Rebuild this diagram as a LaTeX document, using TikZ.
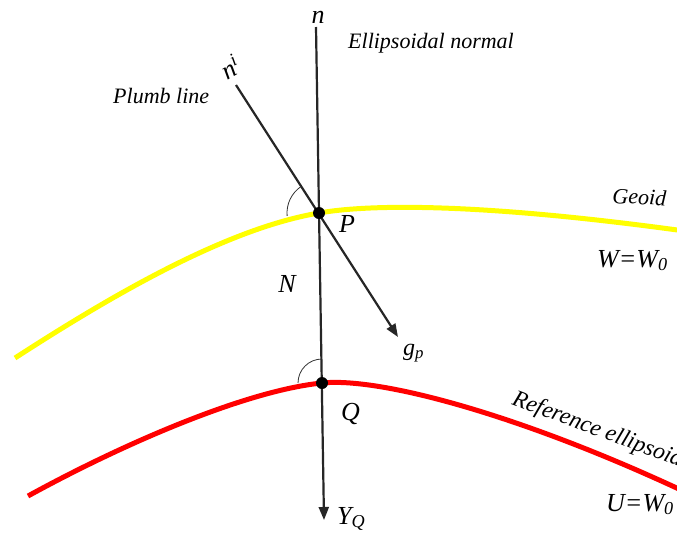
\documentclass[tikz,border=0pt]{standalone}
\usepackage{fontspec}
\setmainfont{Liberation Serif}
\usetikzlibrary{arrows.meta}
\begin{document}
\begin{tikzpicture}[x=1pt,y=-1pt,
  axisline/.style={draw=black!85, line width=2.2pt},
  arrowtip/.style={-{Triangle[length=13pt,width=10pt]}},
  lbl/.style={inner sep=0pt, font=\fontsize{26}{30}\selectfont\itshape},
  txt/.style={inner sep=0pt, font=\fontsize{22}{26}\selectfont\itshape},
  dotnode/.style={circle, fill=black, inner sep=0pt, minimum size=12pt},
  anglearc/.style={draw=black!80, line width=0.8pt},
  geoidline/.style={draw={rgb,255:red,255;green,255;blue,0}, line width=5pt},
  ellline/.style={draw={rgb,255:red,255;green,0;blue,0}, line width=5pt}]
\useasboundingbox (0,0) rectangle (677,539);
\fill[white] (0,0) rectangle (677,539);

% points
\coordinate (nTop) at (316,27);
\coordinate (nBot) at (324,520);
\coordinate (pTop) at (236,85);
\coordinate (pBot) at (398,337);
\coordinate (gL) at (15,358);
\coordinate (gR) at (681,230.5);
\coordinate (eL) at (28,496);
\coordinate (eR) at (681,490);

% curves
\draw[geoidline] (gL) .. controls (120,290) and (230,228) .. (319,213)
                      .. controls (370,204) and (480,203) .. (gR);
\draw[ellline] (eL) .. controls (130,440) and (250,390) .. (322,383)
                    .. controls (380,377) and (520,415) .. (eR);

\draw[axisline, arrowtip] (nTop) -- (nBot);
\draw[axisline, arrowtip] (pTop) -- (pBot);

\node[dotnode] (P) at (319,213) {};
\node[dotnode] (Q) at (322,383) {};

% angle arcs
\draw[anglearc] (P) ++(175:32) arc[start angle=175, end angle=236, radius=32];
\draw[anglearc] (Q) ++(180:24) arc[start angle=180, end angle=270, radius=24];

% labels
\node[lbl] (nlab) at (318,17) {n};
\node[txt, anchor=base west] (enlab) at (348,48) {Ellipsoidal normal};
\node[txt, anchor=base west] (pllab) at (113,103) {Plumb line};
\node[lbl, rotate=30] (nilab) at (230,67) {n\textsuperscript{i}};
\node[lbl] (Plab) at (347,224) {P};
\node[lbl] (Nlab) at (287,284) {N};
\node[lbl, anchor=base west] (Qlab) at (341,420) {Q};
\node[lbl, font=\fontsize{24}{28}\selectfont\itshape, anchor=base west] (glab) at (403,355) {g\textsubscript{p}};
\node[lbl, anchor=base west] (Ylab) at (337,524) {Y\textsubscript{Q}};
\node[txt, anchor=base west, rotate=-3] (geolab) at (612,203) {Geoid};
\node[lbl, anchor=base west] (Wlab) at (597,267) {W=W\textsubscript{0}};
\node[lbl, anchor=base west] (Ulab) at (606,511) {U=W\textsubscript{0}};
\node[txt, font=\fontsize{23.5}{27}\selectfont\itshape, anchor=base west, rotate=-20.5] (relab) at (511,404) {Reference ellipsoid};
\end{tikzpicture}
\end{document}
